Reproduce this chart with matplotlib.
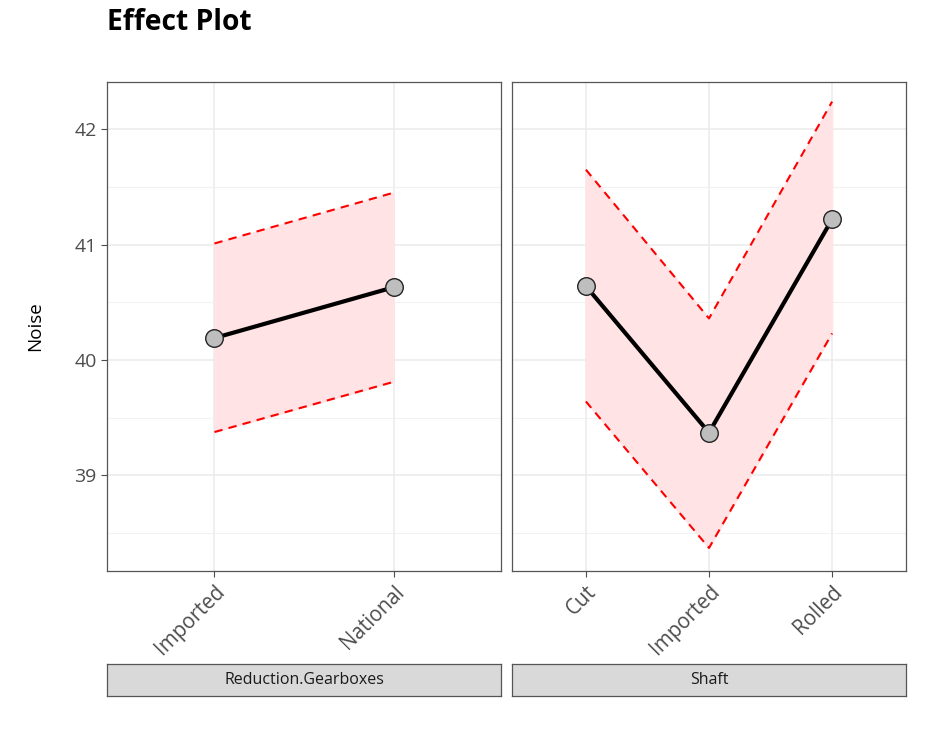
import matplotlib.pyplot as plt

plt.rcParams["font.family"] = ["Open Sans", "DejaVu Sans"]

# Data
gear_levels = ["Imported", "National"]
gear_fit = [40.19, 40.63]
gear_upper = [41.01, 41.45]
gear_lower = [39.375, 39.81]

shaft_levels = ["Cut", "Imported", "Rolled"]
shaft_fit = [40.64, 39.37, 41.22]
shaft_upper = [41.65, 40.36, 42.24]
shaft_lower = [39.64, 38.37, 40.23]

panels = [
    ("Reduction.Gearboxes", gear_levels, gear_fit, gear_upper, gear_lower),
    ("Shaft", shaft_levels, shaft_fit, shaft_upper, shaft_lower),
]

fig = plt.figure(figsize=(9.31, 7.3), dpi=100)
lefts = [107 / 931, 512 / 931]
width = 394 / 931
bottom = 1 - 571 / 730
height = (571 - 82) / 730

for i, (name, levels, fit, upper, lower) in enumerate(panels):
    ax = fig.add_axes([lefts[i], bottom, width, height])
    x = list(range(1, len(levels) + 1))
    ax.fill_between(x, lower, upper, color="#FFE3E5", zorder=1)
    ax.plot(x, upper, color="red", ls=(0, (4, 3)), lw=1.5, zorder=2)
    ax.plot(x, lower, color="red", ls=(0, (4, 3)), lw=1.5, zorder=2)
    ax.plot(x, fit, color="black", lw=3, zorder=3)
    ax.scatter(x, fit, s=160, color="#BEBEBE", edgecolor="#222222", lw=1, zorder=4)

    ax.set_xlim(0.4, len(levels) + 0.6)
    ax.set_ylim(38.17, 42.41)
    ax.set_xticks(x)
    ax.set_xticklabels(levels, rotation=45, ha="right", va="top",
                       rotation_mode="anchor", fontsize=14.8, color="#4D4D4D")
    ax.set_yticks([39, 40, 41, 42])
    ax.set_yticks([38.5, 39.5, 40.5, 41.5], minor=True)
    ax.grid(True, which="major", color="#EBEBEB", lw=1.1, zorder=0)
    ax.grid(True, which="minor", axis="y", color="#F2F2F2", lw=0.8, zorder=0)
    ax.set_axisbelow(True)
    ax.tick_params(which="major", color="#4D4D4D", length=4, labelsize=14,
                   labelcolor="#4D4D4D")
    ax.tick_params(axis="x", labelsize=14.8)
    ax.tick_params(which="minor", length=0)
    for s in ax.spines.values():
        s.set_color("#555555")
        s.set_linewidth(0.9)
    if i == 0:
        ax.set_ylabel("Noise", fontsize=13.5, labelpad=22)
    else:
        ax.tick_params(axis="y", which="both", left=False, labelleft=False)

    # facet strip at the bottom
    sx = fig.add_axes([lefts[i], 1 - 696 / 730, width, 32 / 730])
    sx.set_xticks([])
    sx.set_yticks([])
    sx.set_facecolor("#D9D9D9")
    for s in sx.spines.values():
        s.set_color("#555555")
        s.set_linewidth(0.9)
    sx.text(0.5, 0.5, name, ha="center", va="center", fontsize=11.5,
            color="#1A1A1A", transform=sx.transAxes)

fig.text(107 / 931, 1 - 23 / 730, "Effect Plot", fontsize=20.3, fontweight="bold",
         ha="left", va="center")

plt.savefig("out.png", dpi=100)
